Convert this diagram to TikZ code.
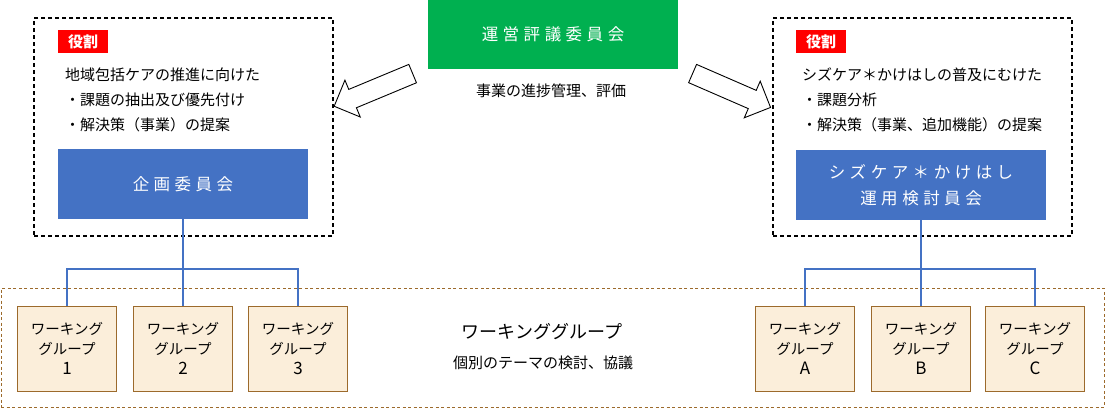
\documentclass[tikz,border=0pt]{standalone}
\usepackage{fontspec}
\setmainfont{Noto Sans CJK JP}
\usetikzlibrary{shapes.arrows}
\definecolor{uneigreen}{HTML}{00B050}
\definecolor{iinblue}{HTML}{4472C4}
\definecolor{rolered}{HTML}{FF0000}
\definecolor{wgfill}{HTML}{FBEEDA}
\definecolor{wgline}{HTML}{9C6A2C}
% letter spaced text: \wide ABC\relax
\def\wide#1{#1\widerest}
\def\widerest#1{\ifx\relax#1\else\hskip4.5pt#1\expandafter\widerest\fi}
% group number, a bit larger
\newcommand{\wgnum}[1]{{\fontsize{17}{20}\selectfont #1}}
\begin{document}
\begin{tikzpicture}[x=1pt,y=-1pt,
  frame/.style={draw,line width=2.2pt,dash pattern=on 4pt off 3pt,minimum width=299pt,minimum height=218pt},
  role/.style={fill=rolered,text=white,font=\bfseries\fontsize{15}{18}\selectfont,minimum width=50pt,minimum height=23pt,inner sep=0pt},
  iin/.style={fill=iinblue,text=white,minimum width=250pt,minimum height=70pt,align=center,font=\fontsize{16.5}{26}\selectfont},
  wg/.style={draw=wgline,fill=wgfill,line width=1pt,minimum width=99pt,minimum height=85pt,align=center,font=\fontsize{14.5}{20}\selectfont},
  body/.style={anchor=west,inner sep=0pt,font=\fontsize{15}{18}\selectfont},
  link/.style={draw=iinblue,line width=1.3pt},
  bigarrow/.style={single arrow,draw,fill=white,line width=0.9pt,inner xsep=0pt,inner ysep=9.5pt,minimum height=85pt,single arrow head extend=10pt}]
\useasboundingbox (0,0) rectangle (1105,408);
% working group band
\node[draw=wgline,line width=0.8pt,dash pattern=on 3pt off 2.5pt,minimum width=1103pt,minimum height=119pt] (wgband) at (552.5,347.5) {};
\node[font=\fontsize{18}{22}\selectfont] (wgtitle) at (542,332) {ワーキンググループ};
\node[font=\fontsize{15}{18}\selectfont] (wgtask) at (543,363) {個別のテーマの検討、協議};
% top committee
\node[fill=uneigreen,text=white,minimum width=250pt,minimum height=69pt,font=\fontsize{16.5}{20}\selectfont] (unei) at (553,34.5) {\wide 運営評議委員会\relax};
\node[font=\fontsize{15}{18}\selectfont] (ueitask) at (551,91) {事業の進捗管理、評価};
\node[bigarrow,rotate=202.6] (larrow) at (378,88) {};
\node[bigarrow,rotate=-23.5] (rarrow) at (727,88.5) {};
% left side
\node[frame] (lframe) at (183.5,127) {};
\node[role] (lrole) at (83,41.5) {役割};
\node[body] (ltext1) at (65,75) {地域包括ケアの推進に向けた};
\node[body] (ltext2) at (65,100) {・課題の抽出及び優先付け};
\node[body] (ltext3) at (65,125) {・解決策（事業）の提案};
\node[iin] (kikaku) at (183,184) {\wide 企画委員会\relax};
\node[wg] (wg1) at (67,348.5) {ワーキング\\グループ\\\wgnum{1}};
\node[wg] (wg2) at (183,348.5) {ワーキング\\グループ\\\wgnum{2}};
\node[wg] (wg3) at (298,348.5) {ワーキング\\グループ\\\wgnum{3}};
\coordinate (lbus) at (183,269);
\draw[link] (kikaku.south) -- (wg2.north);
\draw[link] (wg1.north) |- (lbus) -| (wg3.north);
% right side
\node[frame] (rframe) at (922.5,127) {};
\node[role] (rrole) at (821,41.5) {役割};
\node[body] (rtext1) at (802,75) {シズケア＊かけはしの普及にむけた};
\node[body] (rtext2) at (802,100) {・課題分析};
\node[body] (rtext3) at (802,125) {・解決策（事業、追加機能）の提案};
\node[iin] (unyo) at (921,185) {\wide シズケア＊かけはし\relax\\\wide 運用検討員会\relax};
\node[wg] (wga) at (805,348.5) {ワーキング\\グループ\\\wgnum{A}};
\node[wg] (wgb) at (921,348.5) {ワーキング\\グループ\\\wgnum{B}};
\node[wg] (wgc) at (1035,348.5) {ワーキング\\グループ\\\wgnum{C}};
\coordinate (rbus) at (921,269);
\draw[link] (unyo.south) -- (wgb.north);
\draw[link] (wga.north) |- (rbus) -| (wgc.north);
\end{tikzpicture}
\end{document}
